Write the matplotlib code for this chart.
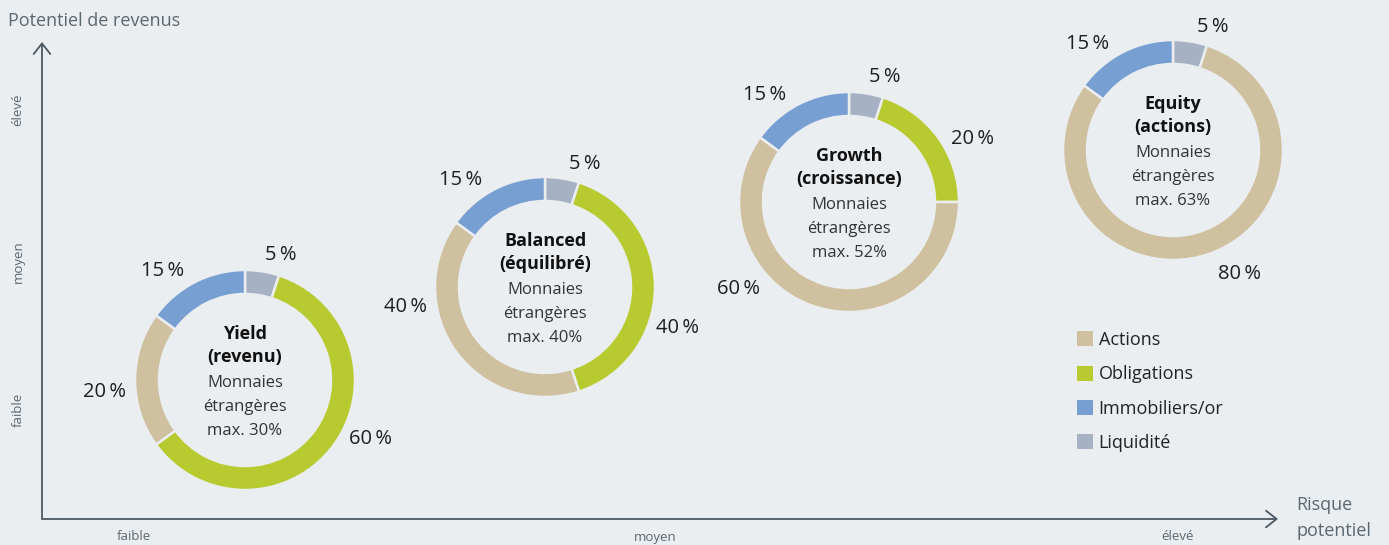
import numpy as np
import matplotlib
matplotlib.use('Agg')
import matplotlib.pyplot as plt
from matplotlib.patches import Patch

plt.rcParams['font.family'] = ['Open Sans', 'DejaVu Sans']

# ---------------- data ----------------
categories = ['Actions', 'Obligations', 'Immobiliers/or', 'Liquidité']
strategy_names = ['Yield', 'Balanced', 'Growth', 'Equity']
strategy_fr = ['(revenu)', '(équilibré)', '(croissance)', '(actions)']
fx_max = [30, 40, 52, 63]
actions = [20, 40, 60, 80]
obligations = [60, 40, 20, 0]
immobiliers = [15, 15, 15, 15]
liquidite = [5, 5, 5, 5]
x_levels = ['faible', 'moyen', 'élevé']
y_levels = ['faible', 'moyen', 'élevé']

# ---------------- style / layout ----------------
W, H = 1389, 545
BG = '#ebeef1'
AXC = '#4d5963'
TXT_GRAY = '#5b6871'
colors = {'Actions': '#cfc09f', 'Obligations': '#b7ca2f',
          'Immobiliers/or': '#789fd2', 'Liquidité': '#a6b1c3'}
centers_img = [(245, 380), (545, 287), (849, 202), (1173, 150)]
R = 110
RING = 24
# label placement angles (degrees clockwise from 12 o'clock) and distance factors
label_angles = [
    {'Liquidité': 16, 'Obligations': 115, 'Actions': 265, 'Immobiliers/or': 323},
    {'Liquidité': 18, 'Obligations': 107, 'Actions': 262, 'Immobiliers/or': 322},
    {'Liquidité': 16, 'Obligations': 63, 'Actions': 232, 'Immobiliers/or': 322},
    {'Liquidité': 18, 'Obligations': 0, 'Actions': 152, 'Immobiliers/or': 321},
]
label_dist = {'Liquidité': 1.18, 'Obligations': 1.26, 'Actions': 1.28,
              'Immobiliers/or': 1.24}

fig = plt.figure(figsize=(W / 100, H / 100), dpi=100, facecolor=BG)
ax = fig.add_axes([0, 0, 1, 1])
ax.set_facecolor(BG)


def Y(y):
    return H - y


# axes arrows
arrow = dict(arrowstyle='->,head_length=0.38,head_width=0.3', color=AXC, lw=1.3,
             shrinkA=0, shrinkB=0, mutation_scale=20)
ax.annotate('', xy=(42, Y(42)), xytext=(42, Y(519)), arrowprops=arrow)
ax.annotate('', xy=(1278, Y(519)), xytext=(42, Y(519)), arrowprops=arrow)

ax.text(8, Y(21), 'Potentiel de revenus', fontsize=13, color=TXT_GRAY,
        ha='left', va='center')
ax.text(1296, Y(505), 'Risque', fontsize=13, color=TXT_GRAY, ha='left', va='center')
ax.text(1296, Y(531), 'potentiel', fontsize=13, color=TXT_GRAY, ha='left', va='center')

for lab, x in zip(x_levels, [134, 655, 1177]):
    ax.text(x, Y(537), lab, fontsize=9.5, color=TXT_GRAY, ha='center', va='center')
for lab, y in zip(y_levels, [410, 262, 110]):
    ax.text(18, Y(y), lab, fontsize=9.5, color=TXT_GRAY, ha='center', va='center',
            rotation=90)

# donuts
order = ['Liquidité', 'Obligations', 'Actions', 'Immobiliers/or']
series = {'Actions': actions, 'Obligations': obligations,
          'Immobiliers/or': immobiliers, 'Liquidité': liquidite}

for i, (cx, cy) in enumerate(centers_img):
    vals = [series[c][i] for c in order]
    cats = [c for c, v in zip(order, vals) if v > 0]
    vals = [v for v in vals if v > 0]
    ax.pie(vals, colors=[colors[c] for c in cats], startangle=90, counterclock=False,
           radius=R, center=(cx, Y(cy)), frame=True,
           wedgeprops=dict(width=RING, edgecolor=BG, linewidth=1.8))
    for c, v in zip(cats, vals):
        th = np.deg2rad(label_angles[i][c])
        lx = cx + label_dist[c] * R * np.sin(th)
        ly = Y(cy) + label_dist[c] * R * np.cos(th)
        ax.text(lx, ly, f'{v}\u2009%', fontsize=14.5, color='#1e1e1e',
                ha='center', va='center')
    # centre text
    lines = [(strategy_names[i], 'bold'), (strategy_fr[i], 'bold'),
             ('Monnaies', 'normal'), ('étrangères', 'normal'),
             (f'max. {fx_max[i]}%', 'normal')]
    offs = [-46, -23, 3, 27, 51]
    for (t, w), o in zip(lines, offs):
        ax.text(cx, Y(cy + o), t, fontsize=13 if w == 'bold' else 12,
                fontweight=w, color='#111111' if w == 'bold' else '#333333',
                ha='center', va='center')

ax.set_xlim(0, W)
ax.set_ylim(0, H)
ax.set_aspect('equal')
ax.axis('off')

handles = [Patch(facecolor=colors[c], edgecolor='none') for c in categories]
fig.legend(handles, categories, loc='upper left',
           bbox_to_anchor=(1077 / W, 1 - 331 / H), frameon=False, fontsize=13,
           handlelength=0.9, handleheight=0.9, handletextpad=0.3,
           labelspacing=0.9, borderpad=0, borderaxespad=0, labelcolor='#222222')

fig.savefig('out.png', dpi=100, facecolor=BG)
